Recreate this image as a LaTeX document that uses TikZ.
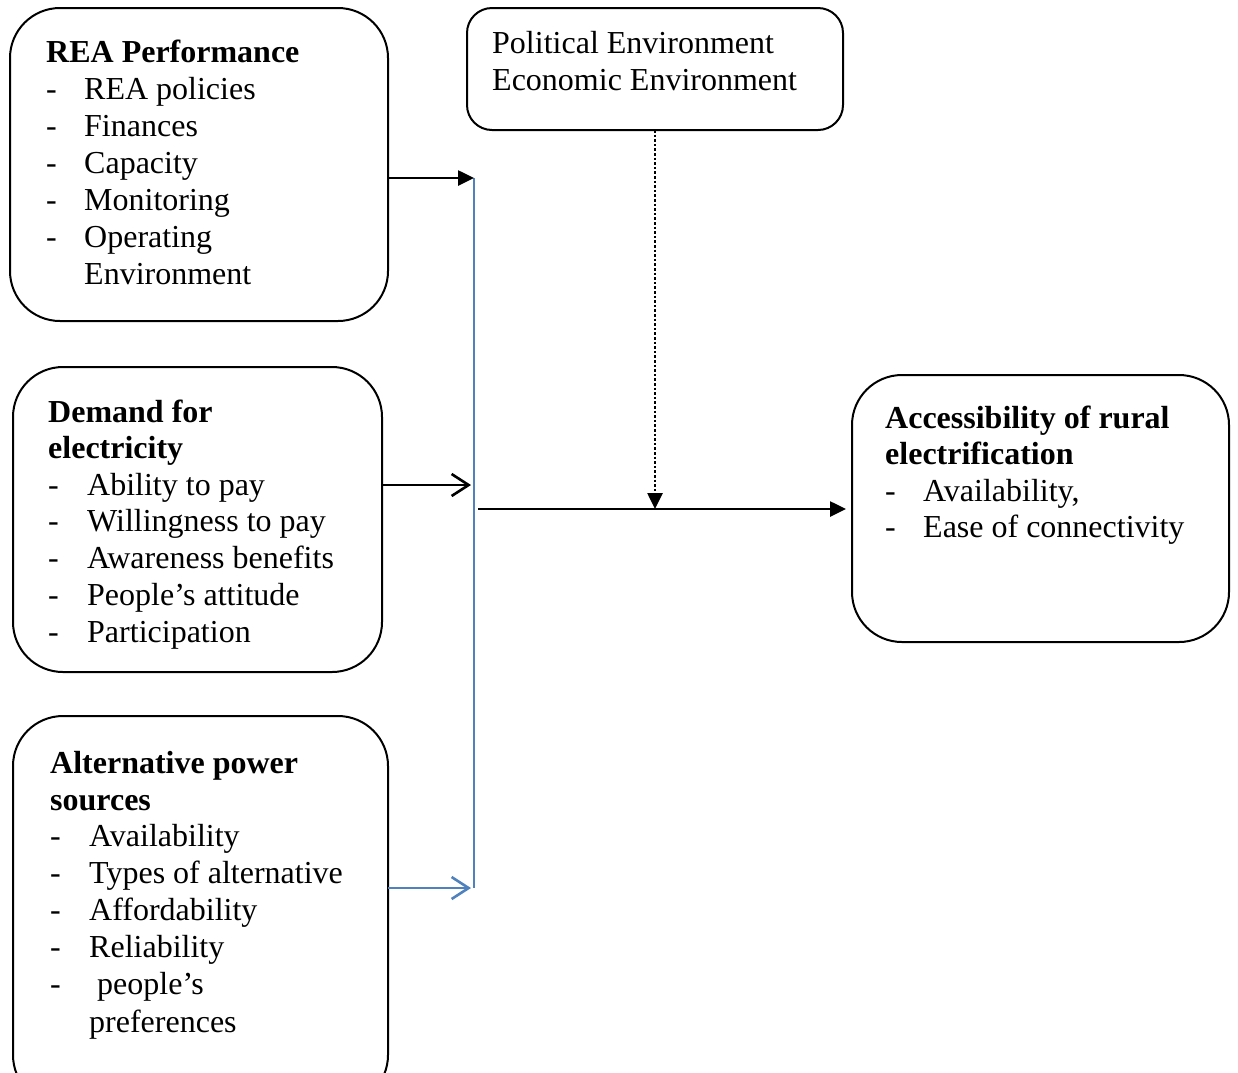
\documentclass[tikz,border=0pt]{standalone}
\usepackage{fontspec}
\setmainfont{Liberation Serif}
\usetikzlibrary{arrows.meta}
\definecolor{wblue}{HTML}{4F81BD}
\tikzset{
  box/.style={draw=black, line width=2pt, rounded corners=#1},
  txt/.style={anchor=base west, inner sep=0pt, font=\fontsize{32}{37}\selectfont},
  btxt/.style={txt, font=\fontsize{32}{37}\selectfont\bfseries},
  conn/.style={line width=2.6pt},
  filltip/.style={-{Triangle[length=16pt,width=15pt]}},
  opentip/.style={-{Straight Barb[length=17pt,width=22pt,line width=2.6pt]}},
}
\begin{document}
\begin{tikzpicture}[x=1pt,y=-1pt]
\useasboundingbox (0,0) rectangle (1238,1072);
\clip (0,0) rectangle (1238,1072);
% boxes
\draw[box=50pt] (10,8) rectangle (388,321);
\coordinate (reaR) at (388,178);
\draw[box=25pt] (467,8) rectangle (843,130);
\coordinate (polB) at (655,130);
\draw[box=50pt] (13,367) rectangle (382,672);
\coordinate (demR) at (382,485);
\draw[box=50pt] (13,716) rectangle (388,1105);
\coordinate (altR) at (388,888);
\draw[box=50pt] (852,375) rectangle (1229,642);
\coordinate (accL) at (846,509);
% REA text
\node[btxt] (r0) at (46,62) {REA Performance};
\foreach \y/\t [count=\i] in {99/REA policies,136/Finances,173/Capacity,210/Monitoring,247/Operating}{
  \node[txt] (rd\i) at (46,\y) {-};
  \node[txt] (rt\i) at (84,\y) {\t};
}
\node[txt] (r7) at (84,284) {Environment};
% political
\node[txt] (p1) at (492,53) {Political Environment};
\node[txt] (p2) at (492,90) {Economic Environment};
% demand
\node[btxt] (d0) at (48,422) {Demand for};
\node[btxt] (d00) at (48,458) {electricity};
\foreach \y/\t [count=\i] in {495/Ability to pay,531/Willingness to pay,568/Awareness benefits,605/People’s attitude,642/Participation}{
  \node[txt] (dd\i) at (48,\y) {-};
  \node[txt] (dt\i) at (87,\y) {\t};
}
% alternative
\node[btxt] (a0) at (50,773) {Alternative power};
\node[btxt] (a00) at (50,810) {sources};
\foreach \y/\t [count=\i] in {846/Availability,883/Types of alternative,920/Affordability,957/Reliability}{
  \node[txt] (ad\i) at (50,\y) {-};
  \node[txt] (at\i) at (89,\y) {\t};
}
\node[txt] (ad5) at (50,994) {-};
\node[txt] (at5) at (97,994) {people’s};
\node[txt] (at6) at (89,1032) {preferences};
% accessibility
\node[btxt] (c0) at (885,428) {Accessibility of rural};
\node[btxt] (c00) at (885,464) {electrification};
\node[txt] (cd1) at (885,501) {-};
\node[txt] (ct1) at (923,501) {Availability,};
\node[txt] (cd2) at (885,537) {-};
\node[txt] (ct2) at (923,537) {Ease of connectivity};
% connectors
\coordinate (vTop) at (474,178);
\coordinate (vBot) at (474,888);
\coordinate (demE) at (471,485);
\coordinate (altE) at (471,888);
\coordinate (mainS) at (478,509);
\coordinate (dotE) at (655,509);
\draw[wblue, line width=2pt] (vTop) -- (vBot);
\draw[conn, filltip] (reaR) -- (vTop);
\draw[conn, opentip] (demR) -- (demE);
\draw[conn, wblue, opentip] (altR) -- (altE);
\draw[conn, filltip] (mainS) -- (accL);
\draw[line width=2.6pt, dotted, filltip] (polB) -- (dotE);
\end{tikzpicture}
\end{document}
